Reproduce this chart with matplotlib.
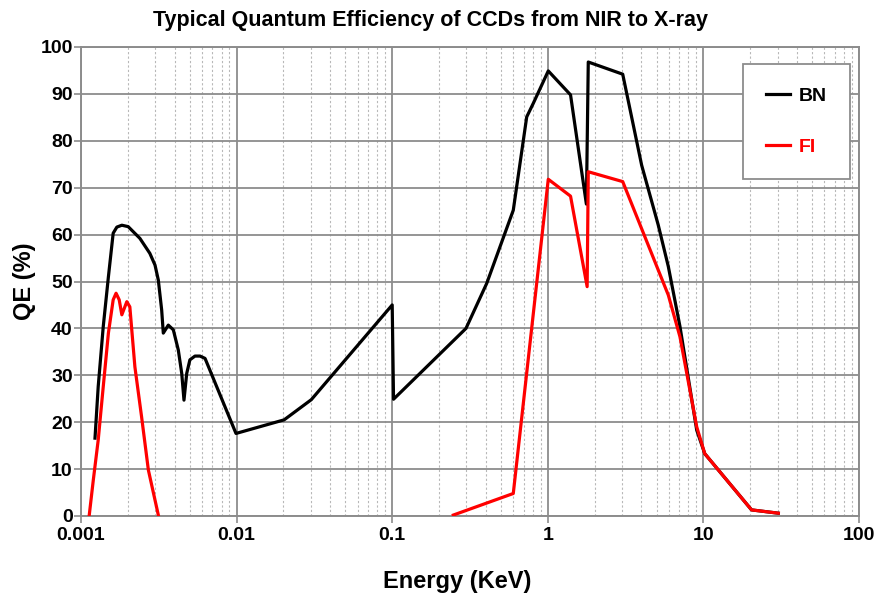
import matplotlib
matplotlib.use("Agg")
import matplotlib.pyplot as plt
from matplotlib.ticker import LogLocator, FixedLocator, NullFormatter

plt.rcParams['font.family'] = ['Liberation Sans', 'DejaVu Sans']

nan = float('nan')

bn_energy = [0.00123, 0.00129, 0.00139, 0.0015, 0.00161, 0.0017, 0.00183, 0.00201,
             0.00239, 0.00277, 0.00299, 0.00314, 0.0033, 0.00338, 0.00364, 0.00392,
             0.00422, 0.00444, 0.00459, 0.00478, 0.00501, 0.0054, 0.00582, 0.00627,
             0.00991, 0.0202, 0.0302, 0.1, 0.102, 0.298, 0.405, 0.6, 0.732, 0.807,
             1.007, 1.40, 1.77, 1.82, 3.03, 4.01, 5.13, 5.95, 7.07, 9.06, 10.2, 20.4, 30.3]
bn_qe = [16.6, 27.6, 40.4, 51.0, 60.3, 61.6, 62.0, 61.7,
         59.2, 56.0, 53.5, 50.3, 43.9, 39.0, 40.7, 39.7,
         35.4, 30.4, 24.7, 30.4, 33.3, 34.1, 34.1, 33.6,
         17.6, 20.5, 24.8, 45.0, 24.9, 40.0, 49.6, 65.2, 85.1, 88.0,
         94.9, 89.8, 66.5, 96.8, 94.2, 74.8, 62.0, 53.2, 40.4, 18.3, 13.3, 1.3, 0.6]

# the FI curve has two separate branches (NIR/optical and X-ray); NaN breaks the line
fi_energy = [0.00113, 0.0012, 0.00129, 0.00139, 0.0015, 0.00161, 0.00168, 0.00176,
             0.00183, 0.00197, 0.00206, 0.00222, 0.00245, 0.00271, 0.00314, nan,
             0.247, 0.6, 1.007, 1.40, 1.79, 1.82, 3.03, 5.95, 7.07, 9.06, 10.2, 20.4, 30.3]
fi_qe = [0.2, 7.7, 16.2, 27.6, 39.0, 46.1, 47.5, 46.1,
         42.9, 45.7, 44.6, 31.8, 21.2, 9.8, 0.2, nan,
         0.2, 4.8, 71.8, 68.2, 48.9, 73.4, 71.3, 47.1, 38.2, 19.0, 13.3, 1.3, 0.6]

x_ticks = [0.001, 0.01, 0.1, 1, 10, 100]
x_labels = ['0.001', '0.01', '0.1', '1', '10', '100']
y_ticks = list(range(0, 101, 10))

fig = plt.figure(figsize=(8.91, 5.96), dpi=100)
ax = fig.add_axes([81 / 891, 1 - 516 / 596, 778 / 891, 469 / 596])

ax.plot(bn_energy, bn_qe, color='black', lw=2.3, label='BN', zorder=3)
ax.plot(fi_energy, fi_qe, color='#ff0000', lw=2.3, label='FI', zorder=4)

ax.set_xscale('log')
ax.set_xlim(0.001, 100)
ax.set_ylim(0, 100)
ax.xaxis.set_major_locator(FixedLocator(x_ticks))
ax.set_xticklabels(x_labels)
ax.xaxis.set_minor_locator(LogLocator(base=10, subs=range(2, 10), numticks=100))
ax.xaxis.set_minor_formatter(NullFormatter())
ax.set_yticks(y_ticks)

ax.grid(which='major', axis='both', color='#8c8c8c', lw=1.3, zorder=0)
ax.grid(which='minor', axis='x', color='#b8b8b8', lw=0.8, linestyle=(0, (2, 2)), zorder=0)
ax.set_axisbelow(True)

for s in ax.spines.values():
    s.set_color('#8c8c8c')
    s.set_linewidth(1.4)

ax.tick_params(axis='both', which='major', labelsize=14, length=5, width=1.2,
               color='#8c8c8c', pad=1)
ax.tick_params(axis='x', which='minor', length=0)
ax.tick_params(axis='x', which='major', pad=3)
for lab in ax.get_xticklabels() + ax.get_yticklabels():
    lab.set_fontweight('bold')

ax.set_xlabel('Energy (KeV)', fontsize=17, fontweight='bold', labelpad=12)
ax.xaxis.set_label_coords(0.483, -0.115)
ax.set_ylabel('QE (%)', fontsize=17, fontweight='bold', labelpad=3)
ax.set_title('Typical Quantum Efficiency of CCDs from NIR to X-ray', fontsize=15.5,
             fontweight='bold', pad=15, x=0.449)

leg = ax.legend(loc='upper right', bbox_to_anchor=(1 - 9 / 778, 1 - 17 / 469),
                prop={'weight': 'bold', 'size': 14}, handlelength=1.2,
                labelspacing=1.7, borderpad=1.2, fancybox=False, framealpha=1,
                edgecolor='#8c8c8c', handletextpad=0.45, borderaxespad=0)
leg.get_frame().set_linewidth(1.3)
for t, c in zip(leg.get_texts(), ['black', '#ff0000']):
    t.set_color(c)

fig.savefig('out.png', dpi=100)
